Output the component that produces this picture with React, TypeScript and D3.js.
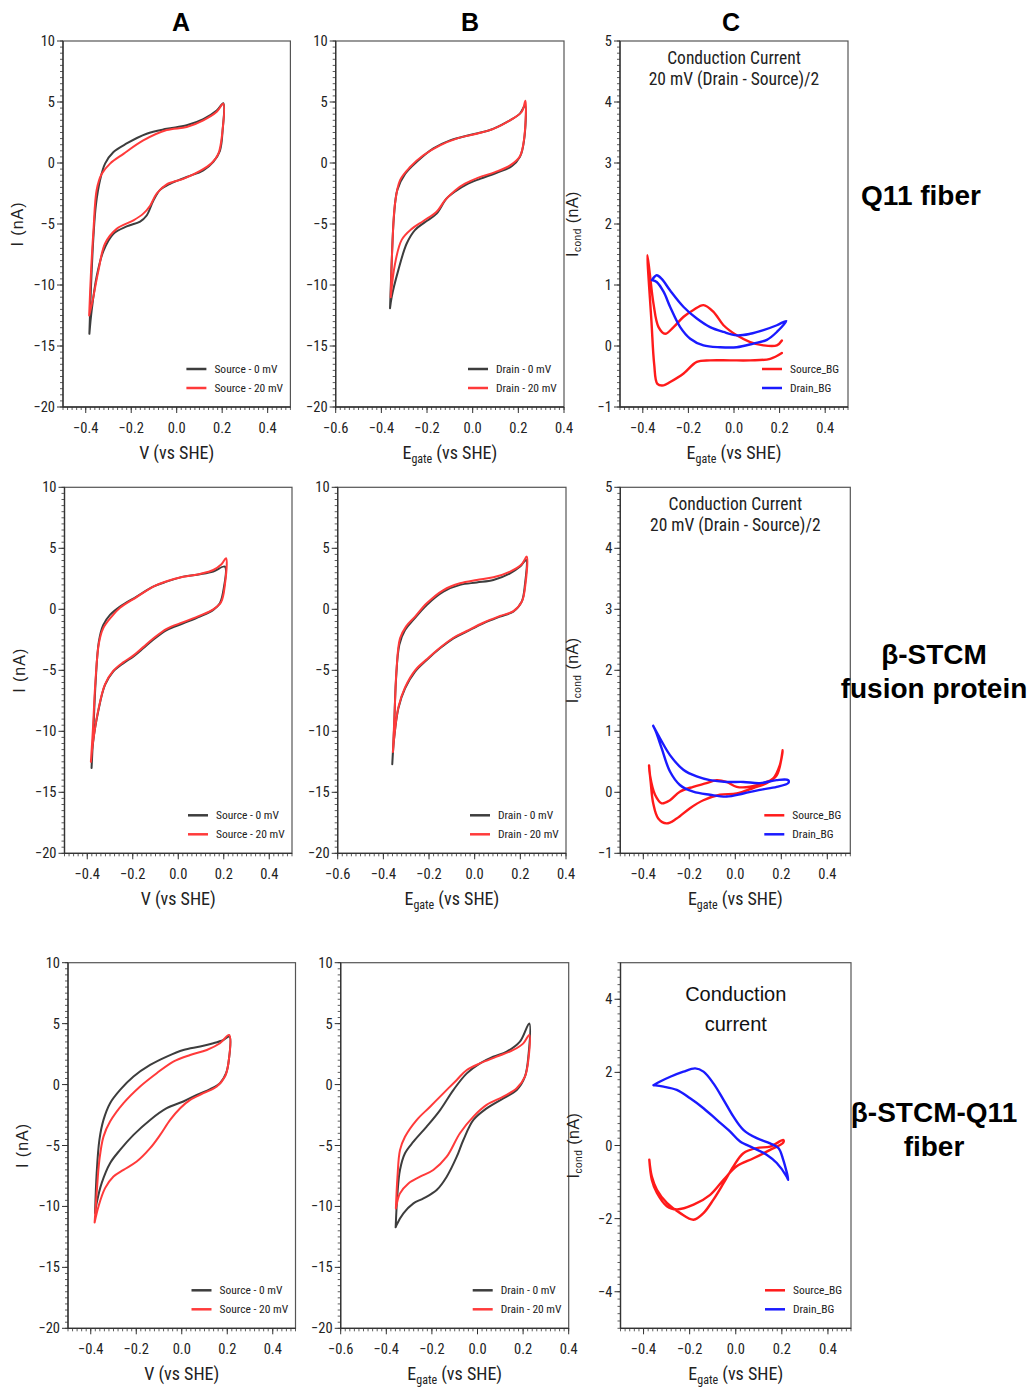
import React from 'react';
import * as d3 from 'd3';

type Pt = [number, number];

// ---------- Data ----------
const columnHeaders = ['A', 'B', 'C'];
const rowLabels = [['Q11 fiber'], ['β-STCM', 'fusion protein'], ['β-STCM-Q11', 'fiber']];

const legendA = ['Source - 0 mV', 'Source - 20 mV'];
const legendB = ['Drain - 0 mV', 'Drain - 20 mV'];
const legendC = ['Source_BG', 'Drain_BG'];

// Row 1 : Q11 fiber
const q11Source0: Pt[] = [[-0.384,-14.0],[-0.377,-10.2],[-0.366,-6.0],[-0.355,-3.4],[-0.337,-1.4],[-0.315,-0.05],[-0.278,0.9],[-0.22,1.6],[-0.132,2.4],[-0.044,2.8],[0.044,3.1],[0.117,3.6],[0.176,4.3],[0.205,4.9],[0.202,2.7],[0.19,1.0],[0.161,0.1],[0.117,-0.6],[0.044,-1.15],[-0.029,-1.7],[-0.073,-2.2],[-0.103,-3.1],[-0.132,-4.3],[-0.161,-4.8],[-0.22,-5.2],[-0.278,-5.8],[-0.322,-7.2],[-0.352,-9.3],[-0.374,-12.1],[-0.384,-14.0]];
const q11Source20: Pt[] = [[-0.385,-12.5],[-0.377,-9.0],[-0.366,-5.5],[-0.352,-2.2],[-0.33,-0.9],[-0.293,-0.05],[-0.234,0.75],[-0.147,1.85],[-0.044,2.7],[0.044,2.95],[0.117,3.5],[0.176,4.2],[0.205,4.85],[0.2,2.4],[0.183,0.75],[0.154,0.0],[0.103,-0.65],[0.029,-1.3],[-0.044,-1.75],[-0.088,-2.5],[-0.117,-3.5],[-0.147,-4.15],[-0.19,-4.7],[-0.264,-5.4],[-0.315,-6.6],[-0.344,-8.8],[-0.37,-11.3],[-0.385,-12.5]];
const q11Drain0: Pt[] = [[-0.362,-11.9],[-0.355,-8.25],[-0.345,-4.4],[-0.33,-2.2],[-0.296,-0.9],[-0.245,0.1],[-0.172,1.2],[-0.099,1.85],[-0.012,2.3],[0.076,2.7],[0.149,3.35],[0.207,4.05],[0.229,4.7],[0.225,1.85],[0.207,0.5],[0.171,-0.27],[0.105,-0.8],[0.032,-1.3],[-0.026,-1.75],[-0.07,-2.25],[-0.114,-2.9],[-0.158,-4.15],[-0.209,-4.85],[-0.253,-5.5],[-0.289,-6.6],[-0.326,-8.8],[-0.355,-11.0],[-0.362,-11.9]];
const q11Drain20: Pt[] = [[-0.359,-11.0],[-0.352,-6.9],[-0.34,-3.3],[-0.318,-1.4],[-0.274,-0.33],[-0.216,0.63],[-0.143,1.45],[-0.07,2.0],[0.018,2.4],[0.091,2.8],[0.164,3.5],[0.215,4.2],[0.231,5.1],[0.226,2.1],[0.207,0.55],[0.164,-0.2],[0.098,-0.75],[0.025,-1.2],[-0.034,-1.7],[-0.077,-2.25],[-0.121,-3.05],[-0.158,-4.0],[-0.216,-4.75],[-0.267,-5.4],[-0.311,-6.3],[-0.34,-8.25],[-0.359,-11.0]];
const q11CondSource: Pt[] = [[0.21,-0.115],[0.159,-0.21],[0.071,-0.235],[-0.017,-0.235],[-0.105,-0.235],[-0.163,-0.26],[-0.221,-0.45],[-0.28,-0.59],[-0.309,-0.645],[-0.336,-0.62],[-0.35,-0.3],[-0.362,0.4],[-0.38,1.49],[-0.371,1.24],[-0.353,0.69],[-0.331,0.31],[-0.302,0.2],[-0.265,0.31],[-0.221,0.48],[-0.178,0.59],[-0.134,0.67],[-0.09,0.56],[-0.046,0.34],[0.012,0.175],[0.071,0.065],[0.129,0.01],[0.188,0.01],[0.21,0.09]];
const q11CondDrain: Pt[] = [[-0.36,1.08],[-0.339,1.16],[-0.317,1.1],[-0.28,0.91],[-0.221,0.64],[-0.163,0.45],[-0.105,0.31],[-0.046,0.23],[0.012,0.175],[0.071,0.2],[0.129,0.26],[0.188,0.34],[0.229,0.41],[0.188,0.23],[0.144,0.1],[0.085,0.04],[0.012,-0.02],[-0.061,-0.02],[-0.134,0.01],[-0.192,0.12],[-0.236,0.31],[-0.28,0.64],[-0.309,0.89],[-0.339,1.05],[-0.36,1.08]];

// Row 2 : β-STCM fusion protein
const fpSource0: Pt[] = [[-0.381,-13.0],[-0.374,-10.3],[-0.363,-5.9],[-0.349,-2.65],[-0.33,-1.3],[-0.3,-0.46],[-0.256,0.22],[-0.183,1.04],[-0.11,1.86],[-0.051,2.27],[0.022,2.68],[0.095,2.87],[0.154,3.09],[0.205,3.5],[0.2,1.72],[0.183,0.49],[0.154,-0.05],[0.095,-0.6],[0.022,-1.15],[-0.051,-1.7],[-0.11,-2.5],[-0.154,-3.2],[-0.198,-3.88],[-0.242,-4.43],[-0.286,-5.11],[-0.322,-6.2],[-0.352,-8.39],[-0.374,-10.85],[-0.381,-13.0]];
const fpSource20: Pt[] = [[-0.384,-12.5],[-0.375,-9.8],[-0.364,-5.9],[-0.349,-2.8],[-0.33,-1.56],[-0.293,-0.6],[-0.256,0.12],[-0.183,1.0],[-0.11,1.86],[-0.051,2.3],[0.022,2.66],[0.095,2.9],[0.154,3.22],[0.19,3.69],[0.21,4.18],[0.205,2.0],[0.188,0.57],[0.154,0.0],[0.095,-0.52],[0.022,-1.05],[-0.051,-1.6],[-0.11,-2.4],[-0.154,-3.1],[-0.198,-3.8],[-0.242,-4.35],[-0.286,-5.05],[-0.322,-6.15],[-0.352,-8.3],[-0.374,-10.8],[-0.384,-12.5]];
const fpDrain0: Pt[] = [[-0.361,-12.7],[-0.353,-9.75],[-0.345,-5.9],[-0.33,-2.9],[-0.305,-1.7],[-0.269,-0.87],[-0.21,0.36],[-0.137,1.45],[-0.064,2.0],[0.009,2.2],[0.082,2.4],[0.155,2.95],[0.199,3.5],[0.225,4.04],[0.22,2.0],[0.206,0.63],[0.169,-0.19],[0.111,-0.6],[0.038,-1.15],[-0.035,-1.83],[-0.093,-2.38],[-0.152,-3.2],[-0.21,-4.15],[-0.261,-5.1],[-0.305,-6.48],[-0.334,-8.1],[-0.353,-10.6],[-0.361,-12.7]];
const fpDrain20: Pt[] = [[-0.358,-11.7],[-0.35,-8.1],[-0.342,-4.84],[-0.327,-2.38],[-0.301,-1.42],[-0.261,-0.6],[-0.21,0.49],[-0.137,1.58],[-0.064,2.13],[0.009,2.4],[0.082,2.62],[0.155,3.09],[0.206,3.69],[0.228,4.32],[0.222,2.0],[0.207,0.65],[0.17,-0.15],[0.111,-0.55],[0.038,-1.1],[-0.035,-1.78],[-0.093,-2.33],[-0.152,-3.15],[-0.21,-4.1],[-0.261,-5.0],[-0.305,-6.4],[-0.334,-8.0],[-0.352,-10.4],[-0.358,-11.7]];
const fpCondSource: Pt[] = [[-0.375,0.44],[-0.371,0.28],[-0.349,-0.04],[-0.32,-0.18],[-0.284,-0.13],[-0.241,0.01],[-0.183,0.09],[-0.125,0.15],[-0.081,0.2],[-0.038,0.17],[0.006,0.09],[0.064,0.09],[0.122,0.15],[0.165,0.23],[0.194,0.45],[0.206,0.69],[0.201,0.56],[0.18,0.28],[0.136,0.15],[0.078,0.07],[0.006,-0.02],[-0.067,-0.04],[-0.139,-0.13],[-0.197,-0.26],[-0.255,-0.43],[-0.299,-0.51],[-0.335,-0.43],[-0.357,-0.18],[-0.368,0.17],[-0.375,0.44]];
const fpCondDrain: Pt[] = [[-0.357,1.09],[-0.328,0.89],[-0.284,0.61],[-0.226,0.37],[-0.168,0.26],[-0.11,0.2],[-0.038,0.17],[0.035,0.17],[0.107,0.15],[0.18,0.2],[0.23,0.2],[0.23,0.15],[0.18,0.09],[0.107,0.04],[0.035,-0.02],[-0.038,-0.07],[-0.11,-0.04],[-0.183,0.01],[-0.241,0.12],[-0.284,0.34],[-0.32,0.72],[-0.345,0.99],[-0.357,1.09]];

// Row 3 : β-STCM-Q11 fiber
const fiberSource0: Pt[] = [[-0.381,-10.55],[-0.374,-7.27],[-0.362,-4.54],[-0.344,-2.9],[-0.315,-1.53],[-0.271,-0.44],[-0.212,0.66],[-0.139,1.61],[-0.066,2.3],[0.007,2.84],[0.081,3.12],[0.139,3.39],[0.183,3.66],[0.21,3.94],[0.207,2.02],[0.195,0.93],[0.168,0.11],[0.125,-0.38],[0.066,-0.85],[0.007,-1.39],[-0.066,-1.94],[-0.139,-2.9],[-0.212,-4.13],[-0.271,-5.36],[-0.315,-6.45],[-0.352,-8.09],[-0.374,-9.73],[-0.381,-10.55]];
const fiberSource20: Pt[] = [[-0.383,-11.32],[-0.374,-8.91],[-0.362,-6.18],[-0.344,-4.27],[-0.315,-3.04],[-0.256,-1.53],[-0.183,-0.16],[-0.11,0.93],[-0.037,1.89],[0.037,2.43],[0.11,2.84],[0.168,3.39],[0.208,4.07],[0.205,1.75],[0.19,0.66],[0.154,-0.16],[0.095,-0.71],[0.037,-1.26],[-0.007,-1.94],[-0.051,-2.9],[-0.095,-4.13],[-0.139,-5.22],[-0.198,-6.32],[-0.256,-7.0],[-0.3,-7.55],[-0.337,-8.5],[-0.366,-10.0],[-0.383,-11.32]];
const fiberDrain0: Pt[] = [[-0.359,-11.71],[-0.351,-8.93],[-0.34,-7.01],[-0.318,-5.64],[-0.281,-4.69],[-0.223,-3.45],[-0.164,-2.09],[-0.106,-0.45],[-0.047,0.92],[0.011,1.74],[0.069,2.29],[0.128,2.7],[0.186,3.52],[0.227,5.02],[0.223,2.29],[0.208,0.65],[0.172,-0.44],[0.113,-1.13],[0.04,-1.95],[-0.018,-2.9],[-0.062,-4.55],[-0.091,-5.92],[-0.135,-7.56],[-0.179,-8.65],[-0.237,-9.34],[-0.281,-9.75],[-0.325,-10.57],[-0.355,-11.52],[-0.359,-11.71]];
const fiberDrain20: Pt[] = [[-0.358,-10.16],[-0.351,-7.56],[-0.34,-5.38],[-0.318,-4.28],[-0.267,-2.91],[-0.208,-1.82],[-0.15,-0.72],[-0.091,0.38],[-0.047,1.2],[0.011,1.74],[0.084,2.29],[0.157,2.84],[0.201,3.38],[0.227,4.07],[0.223,2.02],[0.208,0.65],[0.172,-0.31],[0.113,-0.99],[0.04,-1.67],[-0.018,-2.63],[-0.077,-3.99],[-0.135,-5.92],[-0.194,-7.01],[-0.252,-7.56],[-0.303,-8.11],[-0.34,-8.93],[-0.355,-9.88],[-0.358,-10.16]];
const fiberCondSource: Pt[] = [[-0.375,-0.39],[-0.364,-0.85],[-0.342,-1.21],[-0.299,-1.57],[-0.241,-1.85],[-0.183,-2.03],[-0.14,-1.85],[-0.097,-1.48],[-0.053,-1.03],[-0.01,-0.57],[0.033,-0.21],[0.091,-0.07],[0.149,-0.03],[0.206,0.15],[0.206,0.08],[0.149,-0.12],[0.077,-0.35],[0.004,-0.57],[-0.053,-0.94],[-0.111,-1.35],[-0.183,-1.62],[-0.256,-1.75],[-0.299,-1.66],[-0.342,-1.3],[-0.364,-0.94],[-0.375,-0.39]];
const fiberCondDrain: Pt[] = [[-0.357,1.65],[-0.328,1.75],[-0.284,1.88],[-0.227,2.02],[-0.176,2.11],[-0.14,2.02],[-0.097,1.7],[-0.053,1.25],[-0.01,0.79],[0.033,0.43],[0.091,0.2],[0.149,0.06],[0.185,-0.07],[0.206,-0.39],[0.228,-0.94],[0.221,-0.85],[0.178,-0.48],[0.134,-0.25],[0.077,-0.07],[0.019,0.11],[-0.024,0.38],[-0.082,0.7],[-0.14,1.02],[-0.198,1.29],[-0.256,1.52],[-0.313,1.61],[-0.357,1.65]];

// ---------- Styling / layout ----------
const NARROW = "'Liberation Sans Narrow','Arial Narrow','Roboto Condensed',sans-serif";
const ARIAL = "'Liberation Sans',Arial,Helvetica,sans-serif";
const BLACK = '#3d3d3d';
const RED = '#ff3a3a';
const CRED = '#ff1a1a';
const BLUE = '#1a1aff';

type PanelSpec = {
  kind: 'A' | 'B' | 'C';
  left: number; right: number; top: number; bottom: number;
  xDomain: [number, number]; yDomain: [number, number];
  series: { data: Pt[]; color: string; width: number }[];
  legend: string[];
  yMajor: number; yMinor: number;
  title?: string[]; titleStyle?: 'narrow' | 'calibri';
};

const rows = [
  { top: 41, bottom: 407, lefts: [63, 335.7, 620], rights: [290.4, 564, 848],
    a: [q11Source0, q11Source20], b: [q11Drain0, q11Drain20], c: [q11CondSource, q11CondDrain], cY: [-1, 5] as [number, number],
    title: ['Conduction Current', '20 mV (Drain - Source)/2'], titleStyle: 'narrow' as const },
  { top: 487.3, bottom: 853.3, lefts: [64.5, 337.7, 620.3], rights: [292, 566, 850.3],
    a: [fpSource0, fpSource20], b: [fpDrain0, fpDrain20], c: [fpCondSource, fpCondDrain], cY: [-1, 5] as [number, number],
    title: ['Conduction Current', '20 mV (Drain - Source)/2'], titleStyle: 'narrow' as const },
  { top: 962.7, bottom: 1328.3, lefts: [68, 340.7, 620.5], rights: [295.5, 568.7, 851],
    a: [fiberSource0, fiberSource20], b: [fiberDrain0, fiberDrain20], c: [fiberCondSource, fiberCondDrain], cY: [-5, 5] as [number, number],
    title: ['Conduction', 'current'], titleStyle: 'calibri' as const },
];

const panels: PanelSpec[] = [];
rows.forEach((r) => {
  panels.push({ kind: 'A', left: r.lefts[0], right: r.rights[0], top: r.top, bottom: r.bottom,
    xDomain: [-0.5, 0.5], yDomain: [-20, 10],
    series: [{ data: r.a[0], color: BLACK, width: 2 }, { data: r.a[1], color: RED, width: 2 }],
    legend: legendA, yMajor: 6, yMinor: 60 });
  panels.push({ kind: 'B', left: r.lefts[1], right: r.rights[1], top: r.top, bottom: r.bottom,
    xDomain: [-0.6, 0.4], yDomain: [-20, 10],
    series: [{ data: r.b[0], color: BLACK, width: 2 }, { data: r.b[1], color: RED, width: 2 }],
    legend: legendB, yMajor: 6, yMinor: 60 });
  panels.push({ kind: 'C', left: r.lefts[2], right: r.rights[2], top: r.top, bottom: r.bottom,
    xDomain: [-0.5, 0.5], yDomain: r.cY,
    series: [{ data: r.c[0], color: CRED, width: 2.4 }, { data: r.c[1], color: BLUE, width: 2.4 }],
    legend: legendC, yMajor: r.cY[0] === -5 ? 5 : 6, yMinor: r.cY[0] === -5 ? 50 : 60,
    title: r.title, titleStyle: r.titleStyle });
});

const fmtX = d3.format('.1f');
const fmtY = d3.format('d');

function Panel({ p }: { p: PanelSpec }) {
  const x = d3.scaleLinear().domain(p.xDomain).range([p.left, p.right]);
  const y = d3.scaleLinear().domain(p.yDomain).range([p.bottom, p.top]);
  const line = d3.line<Pt>().x((d) => x(d[0])).y((d) => y(d[1])).curve(d3.curveCatmullRom.alpha(0.5));
  const xMajor = x.ticks(5);
  const xMinor = x.ticks(50);
  const yMajor = y.ticks(p.yMajor);
  const yMinor = y.ticks(p.yMinor);
  const legendOffset = p.kind === 'A' ? 104 : p.kind === 'B' ? 96 : 86;
  const lx = p.right - legendOffset;
  const legendColors = p.series.map((s) => s.color);
  const cx = (p.left + p.right) / 2;
  const cy = (p.top + p.bottom) / 2;
  const axisColor = '#333';
  return (
    <g>
      <rect x={p.left} y={p.top} width={p.right - p.left} height={p.bottom - p.top} fill="white" stroke="#555" strokeWidth={1.2} />
      {/* minor ticks */}
      {xMinor.map((t, i) => (
        <line key={'xm' + i} x1={x(t)} x2={x(t)} y1={p.bottom} y2={p.bottom + 3} stroke={axisColor} strokeWidth={0.8} />
      ))}
      {yMinor.map((t, i) => (
        <line key={'ym' + i} x1={p.left} x2={p.left - 3} y1={y(t)} y2={y(t)} stroke={axisColor} strokeWidth={0.8} />
      ))}
      {xMajor.map((t, i) => (
        <g key={'xM' + i}>
          <line x1={x(t)} x2={x(t)} y1={p.bottom} y2={p.bottom + 6} stroke={axisColor} strokeWidth={1} />
          <text x={x(t)} y={p.bottom + 26} textAnchor="middle" fontFamily={NARROW} fontSize={14.5} fill="#222">{fmtX(t)}</text>
        </g>
      ))}
      {yMajor.map((t, i) => (
        <g key={'yM' + i}>
          <line x1={p.left} x2={p.left - 6} y1={y(t)} y2={y(t)} stroke={axisColor} strokeWidth={1} />
          <text x={p.left - 8} y={y(t) + 5} textAnchor="end" fontFamily={NARROW} fontSize={14.5} fill="#222">{fmtY(t)}</text>
        </g>
      ))}
      <line x1={p.left} x2={p.left} y1={p.top} y2={p.bottom} stroke={axisColor} strokeWidth={1.3} />
      <line x1={p.left} x2={p.right} y1={p.bottom} y2={p.bottom} stroke={axisColor} strokeWidth={1.3} />
      {/* data */}
      {p.series.map((s, i) => (
        <path key={'s' + i} d={line(s.data) || ''} fill="none" stroke={s.color} strokeWidth={s.width} strokeLinejoin="round" strokeLinecap="round" />
      ))}
      {/* legend */}
      {p.legend.map((lab, i) => (
        <g key={'lg' + i}>
          <line x1={lx} x2={lx + 20} y1={p.bottom - 38 + i * 19} y2={p.bottom - 38 + i * 19} stroke={legendColors[i]} strokeWidth={2.5} />
          <text x={lx + 28} y={p.bottom - 34 + i * 19} fontFamily={NARROW} fontSize={11.5} fill="#222">{lab}</text>
        </g>
      ))}
      {/* title inside C */}
      {p.title && p.titleStyle === 'narrow' && p.title.map((t, i) => (
        <text key={'t' + i} x={cx} y={p.top + 23 + i * 21} textAnchor="middle" fontFamily={NARROW} fontSize={17.5} fill="#222">{t}</text>
      ))}
      {p.title && p.titleStyle === 'calibri' && p.title.map((t, i) => (
        <text key={'t' + i} x={cx} y={p.top + 38 + i * 30} textAnchor="middle" fontFamily={ARIAL} fontSize={20} fill="#111">{t}</text>
      ))}
      {/* axis titles */}
      {p.kind === 'A' ? (
        <text x={cx} y={p.bottom + 52} textAnchor="middle" fontFamily={NARROW} fontSize={18} fill="#222">V (vs SHE)</text>
      ) : (
        <text x={cx} y={p.bottom + 52} textAnchor="middle" fontFamily={NARROW} fontSize={18} fill="#222">
          E<tspan fontSize={12} dy={4}>gate</tspan><tspan dy={-4}> (vs SHE)</tspan>
        </text>
      )}
      {p.kind === 'A' && (
        <text transform={`translate(${p.left - 40},${cy}) rotate(-90)`} textAnchor="middle" fontFamily={ARIAL} fontSize={16} letterSpacing={1} fill="#222">I (nA)</text>
      )}
      {p.kind === 'C' && (
        <text transform={`translate(${p.left - 42},${cy}) rotate(-90)`} textAnchor="middle" fontFamily={ARIAL} fontSize={16} letterSpacing={0.5} fill="#222">
          I<tspan fontSize={10} dy={3}>cond</tspan><tspan dy={-3}> (nA)</tspan>
        </text>
      )}
    </g>
  );
}

export default function App() {
  const headerX = [181, 470, 731];
  const rowLabelPos = [
    { x: 921, y: 205 },
    { x: 934, y: 664 },
    { x: 934, y: 1122 },
  ];
  return (
    <svg width={1034} height={1389} style={{ position: 'absolute', left: 0, top: 0, background: 'white' }}>
      <rect x={0} y={0} width={1034} height={1389} fill="white" />
      {columnHeaders.map((h, i) => (
        <text key={h} x={headerX[i]} y={31} textAnchor="middle" fontFamily={ARIAL} fontWeight="bold" fontSize={25} fill="#000">{h}</text>
      ))}
      {panels.map((p, i) => <Panel key={i} p={p} />)}
      {rowLabels.map((lines, i) => (
        <g key={'rl' + i}>
          {lines.map((t, j) => (
            <text key={j} x={rowLabelPos[i].x} y={rowLabelPos[i].y + j * 34} textAnchor="middle" fontFamily={ARIAL} fontWeight="bold" fontSize={28} fill="#000">{t}</text>
          ))}
        </g>
      ))}
    </svg>
  );
}
